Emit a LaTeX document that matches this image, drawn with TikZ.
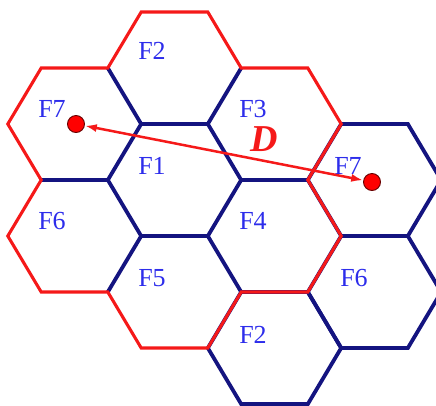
\documentclass[tikz,border=0pt]{standalone}
\usepackage{fontspec}
\setmainfont{Liberation Serif}
\usetikzlibrary{arrows.meta}

\definecolor{hexblue}{RGB}{20,20,128}
\definecolor{hexred}{RGB}{245,25,25}
\definecolor{labelblue}{RGB}{45,45,235}

\tikzset{
  blueedge/.style={draw=hexblue, line width=3.8pt, line join=miter},
  rededge/.style={draw=hexred, line width=3.1pt, line join=miter},
  cell/.style={text=labelblue, font=\fontsize{26}{30}\selectfont, inner sep=0pt},
  site/.style={circle, fill=red, draw=black!60!red, line width=0.9pt,
               minimum size=17pt, inner sep=0pt},
  reuse/.style={draw=hexred, line width=2.5pt,
                {Latex[length=12pt,width=8pt]}-{Latex[length=12pt,width=8pt]}},
  distlabel/.style={text=hexred, font=\fontsize{38}{42}\selectfont\bfseries\itshape,
                    inner sep=0pt},
}

% flat-topped hexagonal cell around a centre
\newcommand\hexcell[1]{#1 ++(66.67,0) -- ++(-33.33,56) -- ++(-66.67,0)
  -- ++(-33.33,-56) -- ++(33.33,-56) -- ++(66.67,0) -- cycle}

\begin{document}
\begin{tikzpicture}[x=1pt, y=-1pt]
  \useasboundingbox (0,0) rectangle (436,405);
  \clip (0,0) rectangle (436,405);

  % cell centres
  \coordinate (c1) at (174.5,180);
  \coordinate (c7r) at (374.5,180);
  \coordinate (c6r) at (374.5,292);
  \coordinate (c2b) at (274.5,348);

  % inner edges of the left cluster
  \draw[blueedge] \hexcell{(c1)};
  \draw[blueedge] (241.2,180) -- (307.8,180);
  \draw[blueedge] (207.8,236) -- (241.2,292);
  \draw[blueedge] (141.2,236) -- (107.8,292);
  \draw[blueedge] (107.8,180) -- (41.2,180);
  \draw[blueedge] (141.2,124) -- (107.8,68);
  \draw[blueedge] (207.8,124) -- (241.2,68);

  % neighbouring cluster
  \draw[blueedge] \hexcell{(c7r)};
  \draw[blueedge] \hexcell{(c6r)};
  \draw[blueedge] \hexcell{(c2b)};

  % outline of the seven-cell cluster
  \draw[rededge] (141.2,12) -- (207.8,12) -- (241.2,68) -- (307.8,68)
    -- (341.2,124) -- (307.8,180) -- (341.2,236) -- (307.8,292)
    -- (241.2,292) -- (207.8,348) -- (141.2,348) -- (107.8,292)
    -- (41.2,292) -- (7.8,236) -- (41.2,180) -- (7.8,124)
    -- (41.2,68) -- (107.8,68) -- cycle;

  % frequency labels
  \node[cell] (f2t) at (152,51) {F2};
  \node[cell] (f7l) at (52,109) {F7};
  \node[cell] (f1)  at (152,166) {F1};
  \node[cell] (f3)  at (253,109) {F3};
  \node[cell] (f7r) at (348,166) {F7};
  \node[cell] (f6l) at (52,221) {F6};
  \node[cell] (f5)  at (152,278) {F5};
  \node[cell] (f4)  at (253,221) {F4};
  \node[cell] (f6r) at (354,278) {F6};
  \node[cell] (f2b) at (253,335) {F2};

  % co-channel sites and reuse distance
  \node[site] (s1) at (76,124) {};
  \node[site] (s2) at (372,182) {};
  \draw[reuse] (s1) -- (s2);
  \node[distlabel] (dist) at (264,139) {D};
\end{tikzpicture}
\end{document}
